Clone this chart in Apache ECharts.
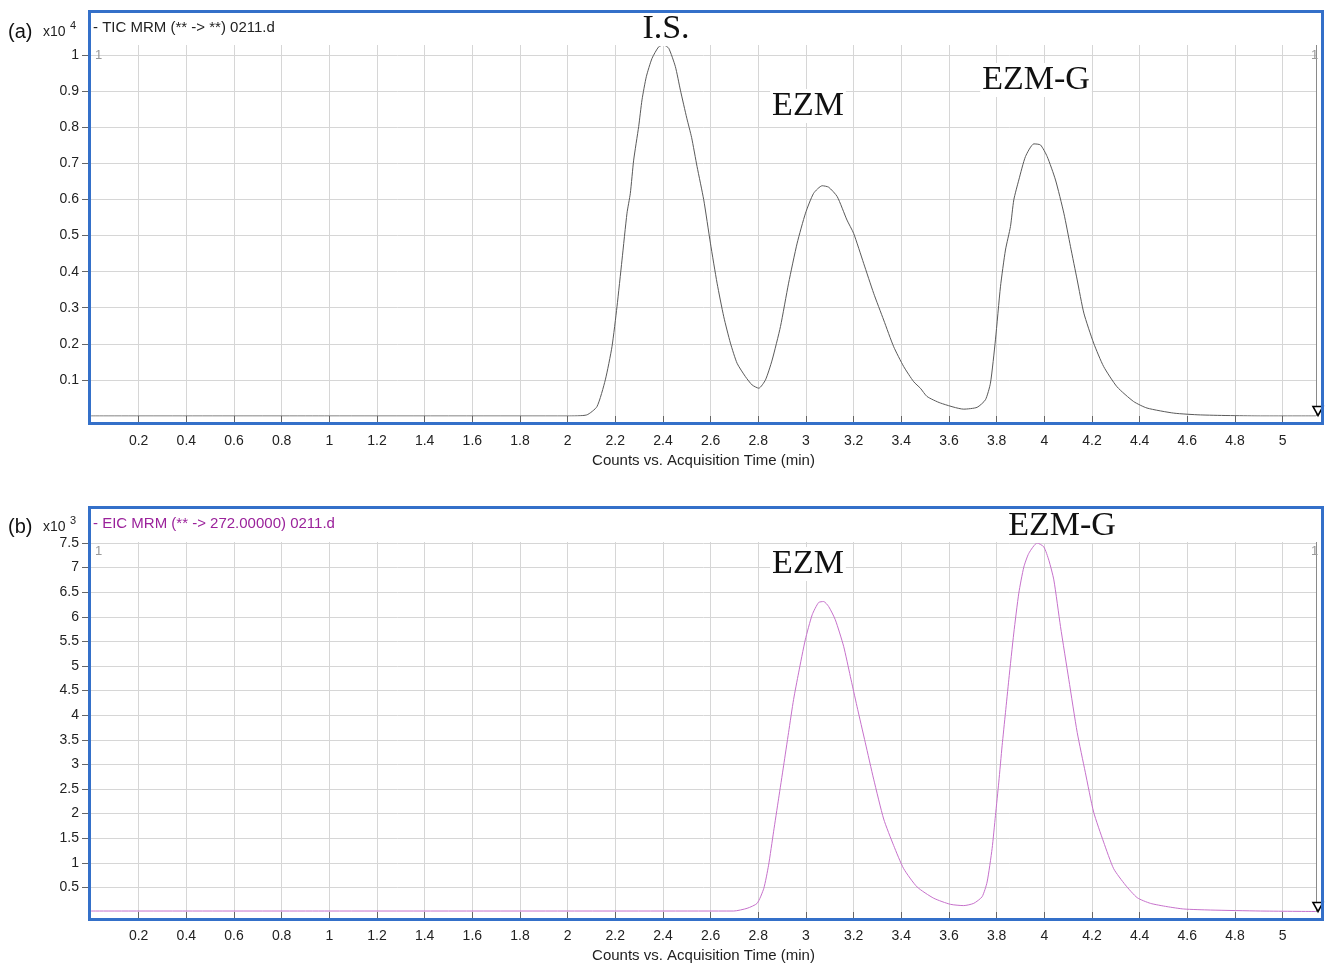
<!DOCTYPE html>
<html><head><meta charset="utf-8">
<script src="https://cdn.jsdelivr.net/npm/echarts@6/dist/echarts.min.js"></script>
<style>html,body{margin:0;padding:0;background:#fff}#c{width:1328px;height:964px}</style>
</head><body><div id="c"></div>
<script>
// ---- data (time in min, counts in x10^4 / x10^3) ----
const TIME_TIC = [0, 1.0, 2.0, 2.08, 2.123, 2.158, 2.186, 2.207, 2.228, 2.249, 2.263, 2.277, 2.298, 2.312, 2.33, 2.354, 2.382, 2.403, 2.424, 2.452, 2.473, 2.50, 2.52, 2.543, 2.571, 2.599, 2.627, 2.655, 2.683, 2.711, 2.746, 2.774, 2.802, 2.83, 2.858, 2.893, 2.927, 2.963, 2.998, 3.032, 3.068, 3.095, 3.131, 3.172, 3.2, 3.242, 3.284, 3.326, 3.368, 3.41, 3.452, 3.48, 3.508, 3.564, 3.662, 3.718, 3.753, 3.774, 3.795, 3.816, 3.837, 3.858, 3.872, 3.893, 3.921, 3.956, 3.984, 4.012, 4.047, 4.082, 4.11, 4.138, 4.166, 4.207, 4.249, 4.305, 4.375, 4.431, 4.543, 4.655, 4.907, 5.14];
const COUNTS_TIC = [0, 0, 0, 0.003, 0.026, 0.100, 0.192, 0.303, 0.432, 0.562, 0.617, 0.709, 0.802, 0.876, 0.940, 0.991, 1.023, 1.028, 1.019, 0.968, 0.903, 0.825, 0.772, 0.691, 0.599, 0.479, 0.368, 0.275, 0.202, 0.146, 0.109, 0.086, 0.077, 0.100, 0.155, 0.248, 0.368, 0.479, 0.562, 0.617, 0.638, 0.634, 0.608, 0.543, 0.506, 0.423, 0.340, 0.266, 0.192, 0.137, 0.095, 0.077, 0.054, 0.036, 0.019, 0.024, 0.045, 0.091, 0.211, 0.358, 0.460, 0.525, 0.599, 0.654, 0.719, 0.754, 0.751, 0.719, 0.654, 0.562, 0.469, 0.377, 0.285, 0.202, 0.137, 0.081, 0.040, 0.022, 0.008, 0.003, 0, 0];
const TIME_EIC = [0, 1.0, 2.0, 2.697, 2.753, 2.795, 2.823, 2.843, 2.864, 2.885, 2.906, 2.927, 2.948, 2.969, 2.997, 3.026, 3.053, 3.074, 3.095, 3.123, 3.158, 3.186, 3.214, 3.249, 3.284, 3.326, 3.368, 3.41, 3.466, 3.536, 3.606, 3.662, 3.704, 3.739, 3.76, 3.781, 3.795, 3.809, 3.823, 3.837, 3.851, 3.872, 3.893, 3.914, 3.935, 3.97, 3.998, 4.019, 4.04, 4.068, 4.103, 4.138, 4.172, 4.207, 4.249, 4.291, 4.34, 4.39, 4.445, 4.515, 4.585, 4.697, 4.907, 5.14];
const COUNTS_EIC = [0.02, 0.02, 0.02, 0.02, 0.075, 0.176, 0.48, 0.95, 1.63, 2.30, 2.97, 3.65, 4.32, 4.86, 5.53, 6.04, 6.29, 6.31, 6.21, 5.94, 5.40, 4.79, 4.18, 3.44, 2.70, 1.89, 1.35, 0.88, 0.51, 0.28, 0.156, 0.13, 0.176, 0.31, 0.61, 1.29, 1.96, 2.64, 3.38, 4.05, 4.72, 5.67, 6.48, 7.01, 7.29, 7.50, 7.42, 7.15, 6.75, 5.80, 4.72, 3.65, 2.84, 2.03, 1.42, 0.88, 0.55, 0.29, 0.176, 0.109, 0.061, 0.04, 0.02, 0.01];
const X_TICKS = [0.2, 0.4, 0.6, 0.8, 1, 1.2, 1.4, 1.6, 1.8, 2, 2.2, 2.4, 2.6, 2.8, 3, 3.2, 3.4, 3.6, 3.8, 4, 4.2, 4.4, 4.6, 4.8, 5];
const Y_TICKS_TIC = [0.1, 0.2, 0.3, 0.4, 0.5, 0.6, 0.7, 0.8, 0.9, 1];
const Y_TICKS_EIC = [0.5, 1, 1.5, 2, 2.5, 3, 3.5, 4, 4.5, 5, 5.5, 6, 6.5, 7, 7.5];
const X_MAX = 5.14;
const Y_MAX_TIC = 1.028;
const Y_MAX_EIC = 7.52;
const TITLE_TIC = '- TIC MRM (** -> **) 0211.d';
const TITLE_EIC = '- EIC MRM (** -> 272.00000) 0211.d';
const X_NAME = 'Counts vs. Acquisition Time (min)';
const PEAKS_TIC = ['I.S.', 'EZM', 'EZM-G'];
const PEAKS_EIC = ['EZM', 'EZM-G'];

// ---- styles / layout ----
const FONT = 'Liberation Sans, Arial, sans-serif';
const SERIF = 'Liberation Serif, Times New Roman, serif';
const BLUE = '#3470c9';
const GRIDC = '#d6d6d6';

function pairs(xs, ys) { return xs.map((x, i) => [x, ys[i]]); }

function xAxisFor(gi, offset) {
  return {
    type: 'value', gridIndex: gi, min: 0, max: X_MAX, offset: offset,
    name: X_NAME, nameLocation: 'middle', nameGap: 30,
    nameTextStyle: { fontFamily: FONT, fontSize: 15, color: '#222' },
    axisLine: { show: false },
    axisTick: { show: true, length: 6, customValues: X_TICKS, lineStyle: { color: '#666' } },
    axisLabel: { customValues: X_TICKS, margin: 11, fontFamily: FONT, fontSize: 14, color: '#222' },
    splitLine: { show: true, lineStyle: { color: GRIDC, width: 1 } }
  };
}
function yAxisFor(gi, max, ticks) {
  return {
    type: 'value', gridIndex: gi, min: 0, max: max,
    axisLine: { show: false },
    axisTick: { show: true, length: 9, customValues: ticks, lineStyle: { color: '#666' } },
    axisLabel: { customValues: ticks, margin: 12, fontFamily: FONT, fontSize: 14, color: '#222' },
    splitLine: { show: true, lineStyle: { color: GRIDC, width: 1 } }
  };
}
function endMarks() {
  return {
    markLine: { silent: true, symbol: 'none', label: { show: false }, lineStyle: { color: '#8a8a8a', width: 1, type: 'solid' }, data: [{ xAxis: X_MAX }] },
    markPoint: { silent: true, symbol: 'triangle', symbolRotate: 180, symbolSize: [10, 9], symbolOffset: [2, -5],
      itemStyle: { color: '#fff', borderColor: '#000', borderWidth: 1.6 }, label: { show: false },
      data: [{ coord: [X_MAX, 0] }] }
  };
}
function txt(x, y, text, style) {
  return { type: 'text', x: x, y: y, z: 100, style: Object.assign({ text: text, fontFamily: FONT, fontSize: 14, fill: '#222', textVerticalAlign: 'middle' }, style) };
}
function peakLabel(x, y, text) {
  return { type: 'text', x: x, y: y, z: 40, style: { text: text, fontFamily: SERIF, fontSize: 34, fill: '#111', textAlign: 'center', textVerticalAlign: 'middle', backgroundColor: '#fff', padding: [0, 2] } };
}

const chart = echarts.init(document.getElementById('c'), null, { renderer: 'canvas' });
chart.setOption({
  animation: false,
  backgroundColor: '#fff',
  grid: [
    { left: 91, top: 45, width: 1225, height: 371 },
    { left: 91, top: 542, width: 1225, height: 372 }
  ],
  xAxis: [xAxisFor(0, 7), xAxisFor(1, 6)],
  yAxis: [yAxisFor(0, Y_MAX_TIC, Y_TICKS_TIC), yAxisFor(1, Y_MAX_EIC, Y_TICKS_EIC)],
  series: [
    Object.assign({ type: 'line', xAxisIndex: 0, yAxisIndex: 0, data: pairs(TIME_TIC, COUNTS_TIC), showSymbol: false, smooth: 0.2,
      lineStyle: { color: '#5a5a5a', width: 1 }, itemStyle: { color: '#5a5a5a' }, z: 5 }, endMarks()),
    Object.assign({ type: 'line', xAxisIndex: 1, yAxisIndex: 1, data: pairs(TIME_EIC, COUNTS_EIC), showSymbol: false, smooth: 0.2,
      lineStyle: { color: '#c671cb', width: 1 }, itemStyle: { color: '#c671cb' }, z: 5 }, endMarks())
  ],
  graphic: [
    { type: 'rect', z: 50, shape: { x: 89.5, y: 11.5, width: 1233, height: 412 }, style: { fill: null, stroke: BLUE, lineWidth: 3 } },
    { type: 'rect', z: 50, shape: { x: 89.5, y: 507.5, width: 1233, height: 412 }, style: { fill: null, stroke: BLUE, lineWidth: 3 } },
    txt(8, 32, '(a)', { fontSize: 20, fill: '#111' }),
    txt(43, 32, 'x10', { fontSize: 14 }),
    txt(70, 26, '4', { fontSize: 11 }),
    txt(93, 28, TITLE_TIC, { fontSize: 15, fill: '#222' }),
    txt(8, 527, '(b)', { fontSize: 20, fill: '#111' }),
    txt(43, 527, 'x10', { fontSize: 14 }),
    txt(70, 521, '3', { fontSize: 11 }),
    txt(93, 524, TITLE_EIC, { fontSize: 15, fill: '#9b229b' }),
    txt(95, 55, '1', { fontSize: 13, fill: '#999' }),
    txt(1311, 55, '1', { fontSize: 13, fill: '#999' }),
    txt(95, 551, '1', { fontSize: 13, fill: '#999' }),
    txt(1311, 551, '1', { fontSize: 13, fill: '#999' }),
    peakLabel(666, 29, PEAKS_TIC[0]),
    peakLabel(808, 106, PEAKS_TIC[1]),
    peakLabel(1036, 80, PEAKS_TIC[2]),
    peakLabel(808, 564, PEAKS_EIC[0]),
    peakLabel(1062, 526, PEAKS_EIC[1])
  ]
});
</script>
</body></html>
